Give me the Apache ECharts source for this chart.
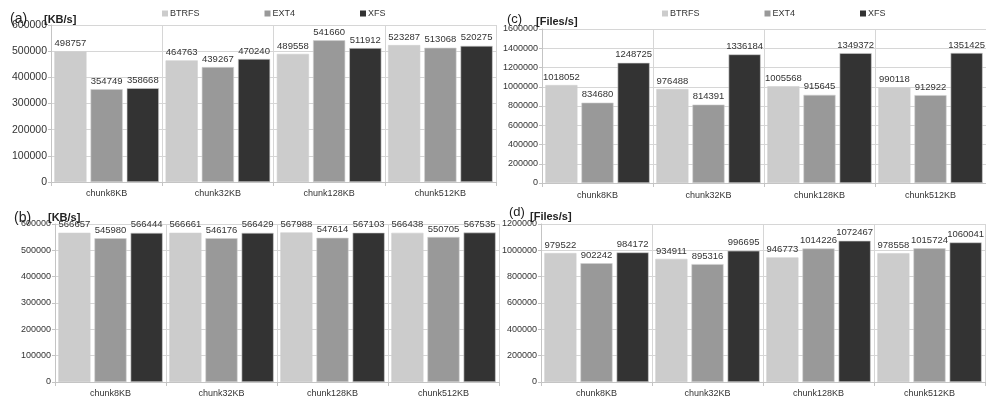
<!DOCTYPE html>
<html>
<head>
<meta charset="utf-8">
<script src="https://cdn.jsdelivr.net/npm/echarts@6/dist/echarts.min.js"></script>
<style>
  html, body { margin: 0; padding: 0; background: #fff; }
  #chart { width: 986px; height: 401px; }
</style>
</head>
<body>
<div id="chart"></div>
<script>
// Chunk sizes on the x axis of every panel
const categories = ['chunk8KB', 'chunk32KB', 'chunk128KB', 'chunk512KB'];
const fsNames = ['BTRFS', 'EXT4', 'XFS'];

// (a) throughput, KB/s
const aBtrfs = [498757, 464763, 489558, 523287];
const aExt4  = [354749, 439267, 541660, 513068];
const aXfs   = [358668, 470240, 511912, 520275];

// (b) throughput, KB/s
const bBtrfs = [566657, 566661, 567988, 566438];
const bExt4  = [545980, 546176, 547614, 550705];
const bXfs   = [566444, 566429, 567103, 567535];

// (c) file rate, Files/s
const cBtrfs = [1018052, 976488, 1005568, 990118];
const cExt4  = [834680, 814391, 915645, 912922];
const cXfs   = [1248725, 1336184, 1349372, 1351425];

// (d) file rate, Files/s
const dBtrfs = [979522, 934911, 946773, 978558];
const dExt4  = [902242, 895316, 1014226, 1015724];
const dXfs   = [984172, 996695, 1072467, 1060041];

const fsColors = ['#cccccc', '#999999', '#333333'];
const FONT = '"Liberation Sans", Arial, sans-serif';
const TEXT = '#333333';

const panels = [
  { grid: { left: 51, top: 25, width: 445, height: 157 }, max: 600000, interval: 100000,
    tickFont: 10.5, valueFont: 9.5, labelMargin: 7, data: [aBtrfs, aExt4, aXfs] },
  { grid: { left: 55, top: 224, width: 444, height: 158 }, max: 600000, interval: 100000,
    tickFont: 9, valueFont: 9.5, labelMargin: 7, data: [bBtrfs, bExt4, bXfs] },
  { grid: { left: 542, top: 29, width: 444, height: 154 }, max: 1600000, interval: 200000,
    tickFont: 9, valueFont: 9.5, labelMargin: 8, data: [cBtrfs, cExt4, cXfs] },
  { grid: { left: 541, top: 224, width: 444, height: 158 }, max: 1200000, interval: 200000,
    tickFont: 9, valueFont: 9.5, labelMargin: 7, data: [dBtrfs, dExt4, dXfs] }
];

const grids = [], xAxes = [], yAxes = [], series = [];
panels.forEach((p, i) => {
  grids.push(Object.assign({ containLabel: false }, p.grid));
  xAxes.push({
    type: 'category', gridIndex: i, data: categories,
    axisLine: { show: true, lineStyle: { color: '#c4c4c4', width: 1 } },
    axisTick: { show: true, length: 4, lineStyle: { color: '#c4c4c4' } },
    splitLine: { show: true, lineStyle: { color: '#d6d6d6', width: 1 } },
    axisLabel: { fontFamily: FONT, fontSize: 9, color: TEXT, margin: p.labelMargin }
  });
  yAxes.push({
    type: 'value', gridIndex: i, min: 0, max: p.max, interval: p.interval,
    axisLine: { show: true, lineStyle: { color: '#c4c4c4', width: 1 } },
    axisTick: { show: true, length: 3, lineStyle: { color: '#c4c4c4' } },
    splitLine: { show: true, lineStyle: { color: '#d6d6d6', width: 1 } },
    axisLabel: { fontFamily: FONT, fontSize: p.tickFont, color: TEXT, margin: 4,
                 formatter: v => String(v) }
  });
  p.data.forEach((vals, k) => {
    series.push({
      type: 'bar', name: fsNames[k], xAxisIndex: i, yAxisIndex: i, data: vals,
      barGap: '12.5%', barCategoryGap: '6%',
      itemStyle: { color: fsColors[k], borderColor: '#d0d0d0', borderWidth: 0.6 },
      label: { show: true, position: 'top', distance: 3, fontFamily: FONT,
               fontSize: p.valueFont, color: TEXT },
      animation: false
    });
  });
});

const legendBase = {
  data: fsNames, itemWidth: 6, itemHeight: 6, itemGap: 65, icon: 'rect', padding: 0,
  itemStyle: { borderWidth: 0 },
  textStyle: { fontFamily: FONT, fontSize: 9, color: TEXT, padding: [0, 0, 0, -3] },
  selectedMode: false
};

const titleText = (text, left, top, size, bold) => ({
  text, left, top,
  textStyle: { fontFamily: FONT, fontSize: size, fontWeight: bold ? 'bold' : 'normal', color: '#222' }
});

const chart = echarts.init(document.getElementById('chart'), null, { renderer: 'canvas' });
chart.setOption({
  animation: false,
  backgroundColor: '#ffffff',
  title: [
    titleText('(a)', 5, 7, 14, false),
    titleText('[KB/s]', 39, 9, 11, true),
    titleText('(b)', 9, 206, 14, false),
    titleText('[KB/s]', 43, 207, 11, true),
    titleText('(c)', 502, 8, 13, false),
    titleText('[Files/s]', 531, 11, 11, true),
    titleText('(d)', 504, 201, 13, false),
    titleText('[Files/s]', 525, 206, 11, true)
  ],
  legend: [
    Object.assign({ left: 162, top: 9 }, legendBase),
    Object.assign({ left: 662, top: 9 }, legendBase)
  ],
  grid: grids,
  xAxis: xAxes,
  yAxis: yAxes,
  series: series
});
</script>
</body>
</html>
